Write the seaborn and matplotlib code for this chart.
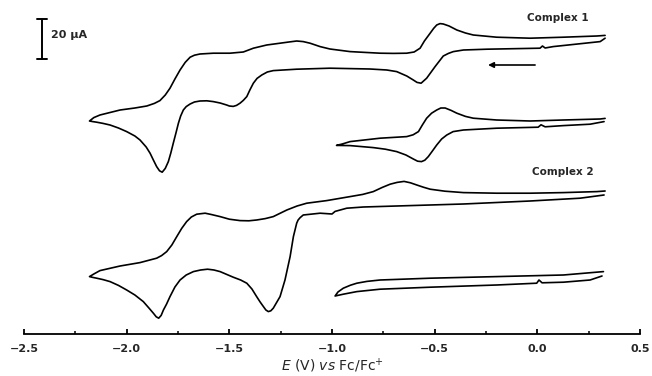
import numpy as np
import pandas as pd
import matplotlib
matplotlib.use("Agg")
import matplotlib.pyplot as plt
import seaborn as sns

# Cyclic voltammograms, potentials in V vs Fc/Fc+, currents in uA (stacked, arbitrary offset)

# Complex 1, full scan (0.33 -> -2.18 -> 0.33)
c1_full_E = [0.330, 0.306, 0.077, 0.038, 0.025, 0.013, -0.246, -0.360, -0.409, -0.433, -0.458, -0.498,
             -0.539, -0.566, -0.586, -0.604, -0.636, -0.685, -0.733, -0.815, -1.010, -1.172, -1.286,
             -1.315, -1.342, -1.365, -1.383, -1.400, -1.415, -1.432, -1.448, -1.465, -1.481, -1.500,
             -1.513, -1.545, -1.578, -1.610, -1.643, -1.670, -1.691, -1.710, -1.724, -1.737, -1.748,
             -1.760, -1.773, -1.785, -1.797, -1.812, -1.827, -1.840, -1.854, -1.870, -1.886, -1.905,
             -1.935, -1.960, -2.000, -2.040, -2.081, -2.115, -2.146, -2.165, -2.181,
             -2.160, -2.130, -2.032, -1.960, -1.902, -1.865, -1.838, -1.812, -1.789, -1.765, -1.740,
             -1.715, -1.691, -1.670, -1.643, -1.578, -1.497, -1.432, -1.383, -1.318, -1.253, -1.210,
             -1.172, -1.140, -1.107, -1.058, -1.010, -0.912, -0.840, -0.766, -0.700, -0.636, -0.600,
             -0.571, -0.550, -0.522, -0.505, -0.490, -0.474, -0.458, -0.430, -0.392, -0.350, -0.312,
             -0.198, -0.035, 0.127, 0.290, 0.330]
c1_full_I = [147.9, 146.2, 143.7, 143.0, 144.0, 142.9, 142.4, 142.0, 141.2, 140.3, 139.0, 133.7,
             127.9, 125.4, 125.8, 127.0, 129.0, 131.2, 132.0, 132.5, 132.9, 132.4, 131.7,
             131.0, 129.5, 127.8, 125.4, 122.0, 118.7, 116.8, 115.4, 114.3, 113.8, 114.0,
             114.5, 115.5, 116.2, 116.6, 116.5, 116.0, 115.0, 113.7, 112.0, 109.0, 105.4,
             100.5, 95.4, 90.5, 86.2, 82.8, 80.9, 81.6, 83.7, 87.0, 90.4, 93.5,
             97.0, 99.0, 101.2, 103.0, 104.5, 105.3, 105.9, 106.2, 106.5,
             108.2, 109.5, 112.0, 113.0, 114.0, 115.3, 116.7, 119.5, 122.9, 127.5, 132.0,
             135.8, 138.4, 139.4, 140.0, 140.4, 140.4, 141.0, 142.9, 144.5, 145.4, 146.0,
             146.5, 146.2, 145.4, 143.7, 142.5, 141.2, 140.8, 140.4, 140.3, 140.4, 141.0,
             142.9, 146.5, 150.4, 152.8, 154.5, 155.2, 155.0, 154.0, 152.0, 150.5, 149.5,
             148.4, 147.9, 148.4, 149.0, 149.3]

# Complex 1, short scan (0.33 -> -0.98 -> 0.33)
c1_short_E = [0.325, 0.257, 0.127, 0.038, 0.018, 0.004, -0.198, -0.360, -0.410, -0.441, -0.466, -0.490,
              -0.511, -0.531, -0.548, -0.564, -0.583, -0.604, -0.640, -0.685, -0.740, -0.799, -0.912,
              -0.978,
              -0.950, -0.912, -0.766, -0.636, -0.605, -0.579, -0.560, -0.539, -0.515, -0.490, -0.470,
              -0.449, -0.420, -0.392, -0.350, -0.312, -0.198, -0.035, 0.127, 0.306, 0.330]
c1_short_I = [106.2, 104.9, 104.2, 103.6, 104.6, 103.4, 102.9, 102.0, 101.2, 99.5, 97.5, 94.5,
              91.5, 88.7, 86.9, 86.2, 86.4, 87.5, 89.5, 91.2, 92.4, 93.2, 94.2,
              94.3,
              95.0, 96.2, 97.9, 98.7, 99.6, 101.2, 104.5, 107.9, 110.4, 112.0, 113.0,
              113.0, 111.8, 110.4, 108.8, 107.9, 107.0, 106.5, 107.0, 107.5, 107.8]

# Complex 2, full scan
c2_full_E = [0.325, 0.208, -0.035, -0.360, -0.685, -0.847, -0.928, -0.985, -1.000, -1.058, -1.140,
             -1.155, -1.165, -1.172, -1.188, -1.204, -1.229, -1.253, -1.286, -1.298, -1.310, -1.322,
             -1.334, -1.350, -1.367, -1.390, -1.415, -1.445, -1.481, -1.545, -1.575, -1.606, -1.640,
             -1.675, -1.710, -1.740, -1.765, -1.789, -1.806, -1.821, -1.832, -1.844, -1.856, -1.870,
             -1.890, -1.919, -1.960, -2.000, -2.040, -2.081, -2.115, -2.146, -2.165, -2.181,
             -2.160, -2.130, -2.032, -1.935, -1.854, -1.830, -1.805, -1.780, -1.756, -1.732, -1.708,
             -1.685, -1.659, -1.618, -1.590, -1.545, -1.500, -1.448, -1.405, -1.367, -1.325, -1.286,
             -1.250, -1.220, -1.170, -1.123, -1.026, -0.912, -0.850, -0.799, -0.755, -0.717, -0.683,
             -0.649, -0.618, -0.587, -0.555, -0.522, -0.450, -0.360, -0.198, -0.035, 0.127, 0.290,
             0.330]
c2_full_I = [69.5, 67.9, 66.5, 65.0, 64.0, 63.5, 62.9, 61.3, 60.0, 60.4, 59.5,
             58.2, 57.0, 55.4, 48.7, 38.7, 27.0, 18.7, 12.9, 11.6, 11.2, 12.0,
             13.7, 16.0, 18.7, 22.5, 25.4, 27.0, 28.4, 31.2, 32.0, 32.4, 32.0,
             31.2, 29.5, 27.0, 23.5, 18.7, 14.9, 12.0, 9.3, 7.9, 8.6, 10.4,
             12.8, 16.2, 19.5, 22.0, 24.3, 26.2, 27.2, 27.9, 28.3, 28.7,
             30.0, 31.7, 34.0, 35.7, 37.9, 39.2, 41.2, 44.5, 48.7, 52.8, 56.2,
             58.5, 59.9, 60.4, 59.8, 58.7, 57.4, 56.7, 56.6, 57.0, 57.7, 58.7,
             60.5, 62.0, 64.0, 65.4, 66.7, 68.7, 69.8, 71.2, 73.3, 74.9, 75.8,
             76.3, 75.6, 74.5, 73.4, 72.4, 71.4, 70.7, 70.4, 70.4, 70.7, 71.2,
             71.5]

# Complex 2, short scan
c2_short_E = [0.315, 0.257, 0.127, 0.023, 0.008, -0.003, -0.198, -0.522, -0.766, -0.879, -0.945, -0.985,
              -0.971, -0.945, -0.910, -0.879, -0.830, -0.766, -0.522, -0.198, 0.127, 0.322]
c2_short_I = [29.0, 27.0, 25.9, 25.6, 27.0, 25.4, 24.5, 23.4, 22.4, 21.2, 19.9, 19.0,
              21.0, 22.9, 24.4, 25.4, 26.3, 27.0, 27.9, 28.7, 29.5, 31.2]

labels = ["Complex 1", "Complex 2"]

sns.set_theme(style="white")
plt.rcParams["font.family"] = ["DejaVu Sans"]
plt.rcParams["mathtext.fontset"] = "dejavusans"

fig = plt.figure(figsize=(6.52, 3.76), dpi=100)
ax = fig.add_axes([24 / 652, 42 / 376, 616 / 652, 334 / 376])

curves = [(c1_full_E, c1_full_I), (c1_short_E, c1_short_I),
          (c2_full_E, c2_full_I), (c2_short_E, c2_short_I)]
for E, I in curves:
    df = pd.DataFrame({"E": E, "I": I})
    sns.lineplot(data=df, x="E", y="I", sort=False, estimator=None,
                 color="black", linewidth=1.2, ax=ax)

ax.set_xlim(-2.5, 0.5)
ax.set_ylim(0, 167)

# scale bar 20 uA
ax.plot([-2.414, -2.414], [137.5, 157.5], color="black", lw=1.4)
ax.plot([-2.438, -2.390], [137.5, 137.5], color="black", lw=1.4)
ax.plot([-2.438, -2.390], [157.5, 157.5], color="black", lw=1.4)
ax.text(-2.370, 149.5, "20 µA", fontsize=8, fontweight="bold", va="center", ha="left")

# scan direction arrow
ax.annotate("", xy=(-0.240, 134.5), xytext=(-0.011, 134.5),
            arrowprops=dict(arrowstyle="-|>", color="black", lw=1.2,
                            mutation_scale=8, shrinkA=0, shrinkB=0))

ax.text(0.101, 158, labels[0], fontsize=7.5, fontweight="bold", ha="center", va="center")
ax.text(0.125, 81, labels[1], fontsize=7.5, fontweight="bold", ha="center", va="center")

for side in ["top", "left", "right"]:
    ax.spines[side].set_visible(False)
ax.spines["bottom"].set_color("black")
ax.spines["bottom"].set_linewidth(1.3)
ax.set_yticks([])
ax.set_xticks([-2.5, -2.0, -1.5, -1.0, -0.5, 0.0, 0.5])
ax.set_xticklabels(["−2.5", "−2.0", "−1.5", "−1.0", "−0.5", "0.0", "0.5"])
ax.set_xticks(np.arange(-2.25, 0.5, 0.5), minor=True)
ax.tick_params(axis="x", which="major", direction="in", length=3.5, width=1.3,
               labelsize=8, pad=7.5, bottom=True, color="black")
ax.tick_params(axis="x", which="minor", direction="in", length=2, width=1.1,
               bottom=True, color="black")
for lab in ax.get_xticklabels():
    lab.set_fontweight("bold")
ax.set_ylabel("")
ax.set_xlabel(r"$\it{E}$ (V) $\it{vs}$ Fc/Fc$^{+}$", fontsize=10, labelpad=2)
ax.patch.set_alpha(0)

fig.savefig("out.png", dpi=100)
